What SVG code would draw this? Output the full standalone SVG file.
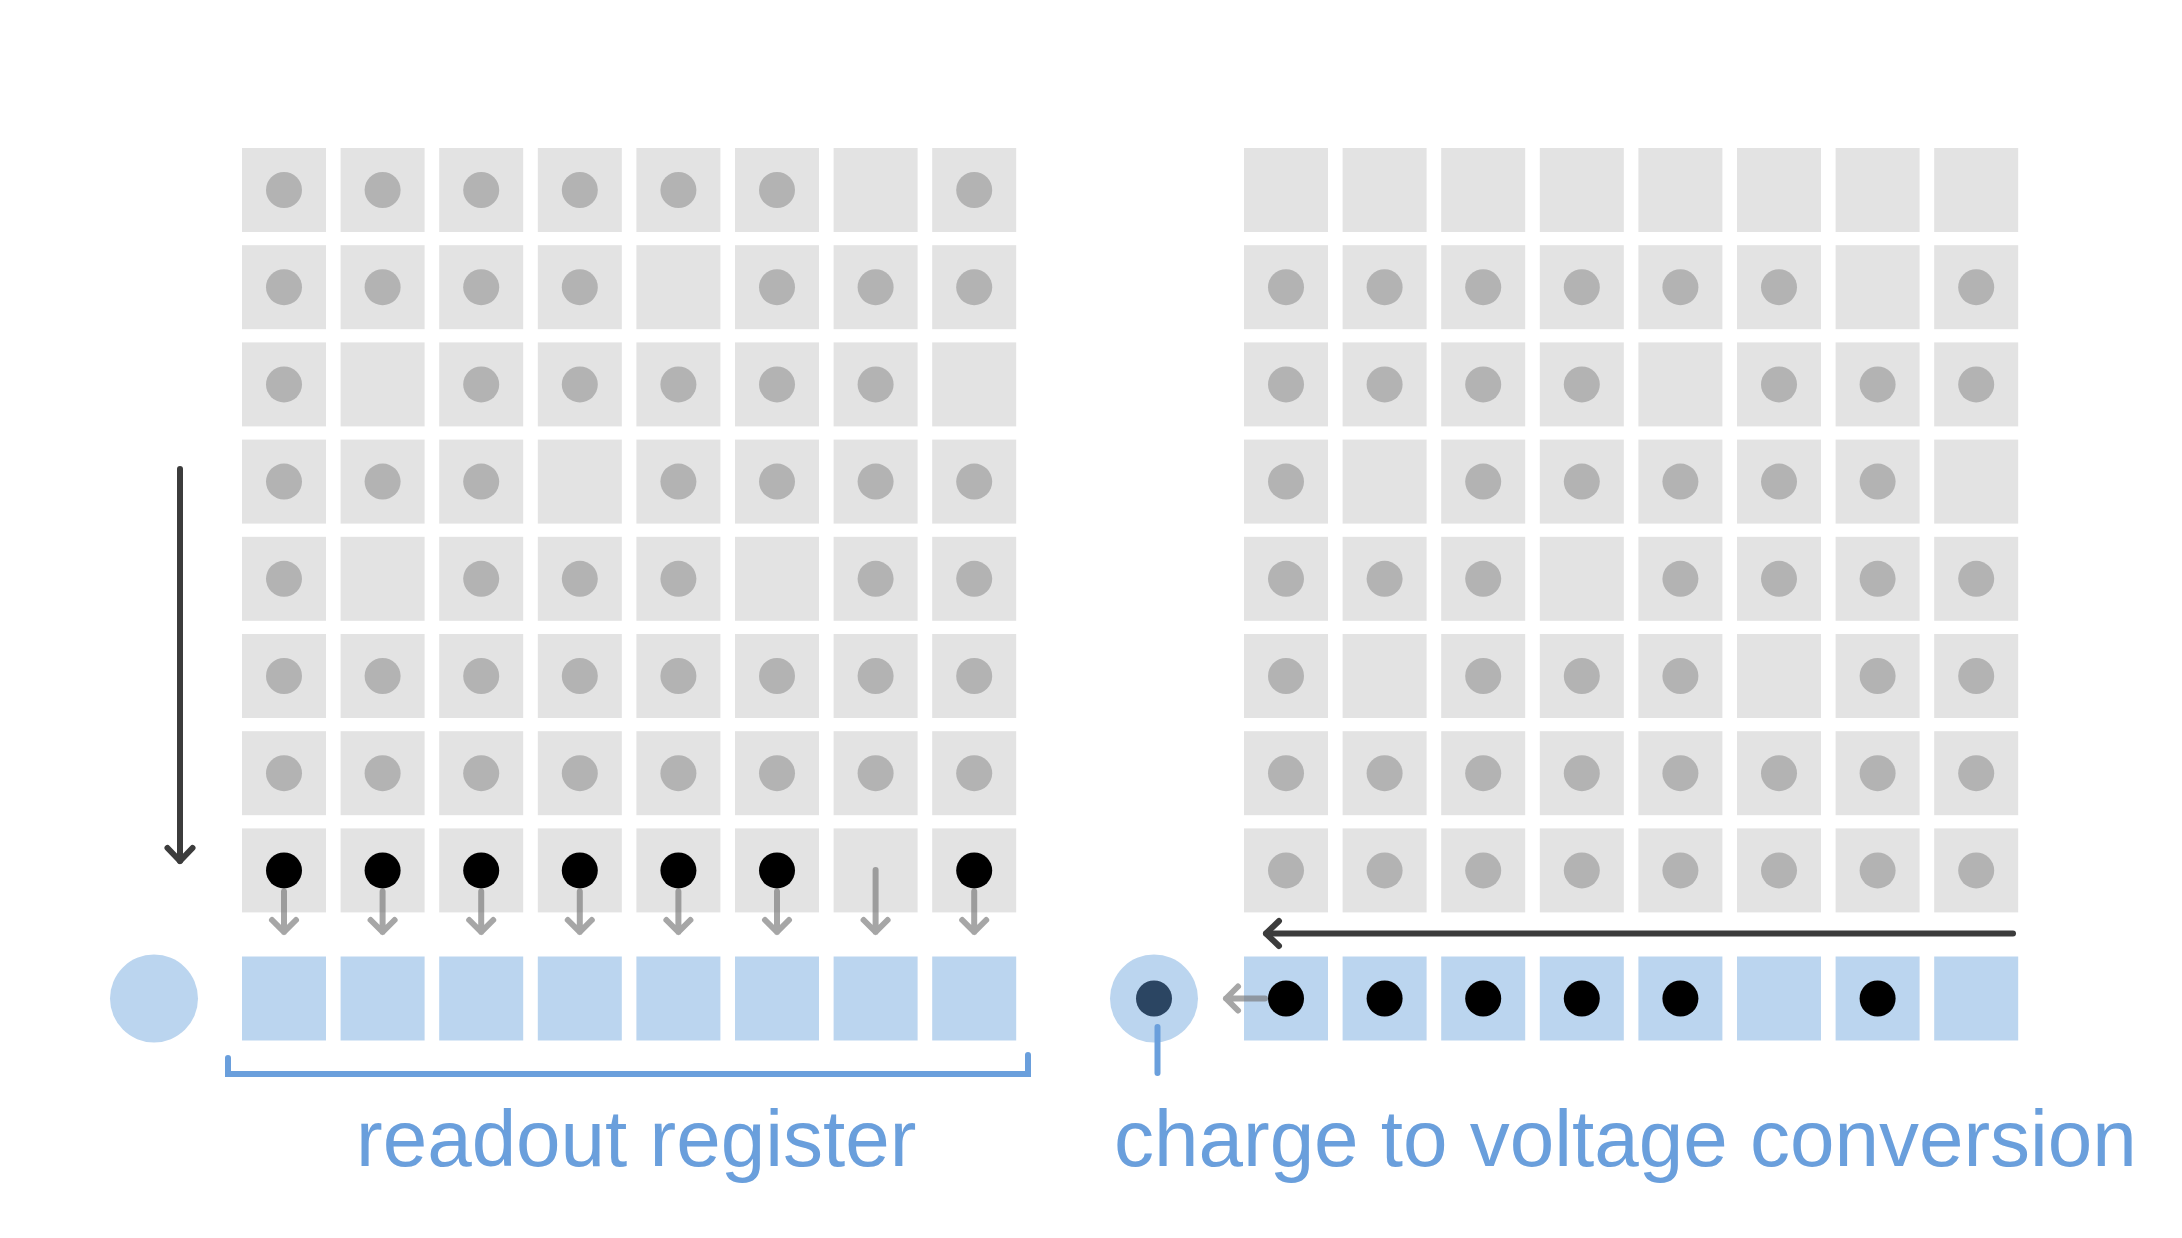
<svg xmlns="http://www.w3.org/2000/svg" width="2182" height="1238" viewBox="0 0 2182 1238">
<style>
.g{fill:#e3e3e3}
.b{fill:#bbd5ef}
.d{fill:#b3b3b3}
.k{fill:#000}
.n{fill:#2b4562}
.da{fill:none;stroke:#3c3c3c;stroke-width:6;stroke-linecap:round}
.ga{fill:none;stroke:#777;stroke-opacity:0.65;stroke-width:6;stroke-linecap:round;stroke-linejoin:round}
.bl{fill:none;stroke:#6a9fdc;stroke-width:6}
.t{font-family:"Liberation Sans",Arial,sans-serif;font-size:80px;fill:#6a9fdc}
</style>
<defs>
<marker id="ah" markerUnits="userSpaceOnUse" viewBox="-20 -20 40 40" markerWidth="40" markerHeight="40" refX="0" refY="0" orient="auto">
<path d="M-13,-12.5 L0,0 L-13,12.5" fill="none" stroke="#3c3c3c" stroke-width="6" stroke-linecap="round" stroke-linejoin="round"/>
</marker>
</defs>
<rect width="2182" height="1238" fill="#fff"/>

<g id="left-grid">
<g id="L1-1" transform="translate(242,148)"><rect class="g" width="84" height="84"/><circle class="d" cx="42" cy="42" r="18"/></g>
<g id="L1-2" transform="translate(340.6,148)"><rect class="g" width="84" height="84"/><circle class="d" cx="42" cy="42" r="18"/></g>
<g id="L1-3" transform="translate(439.2,148)"><rect class="g" width="84" height="84"/><circle class="d" cx="42" cy="42" r="18"/></g>
<g id="L1-4" transform="translate(537.8,148)"><rect class="g" width="84" height="84"/><circle class="d" cx="42" cy="42" r="18"/></g>
<g id="L1-5" transform="translate(636.4,148)"><rect class="g" width="84" height="84"/><circle class="d" cx="42" cy="42" r="18"/></g>
<g id="L1-6" transform="translate(735,148)"><rect class="g" width="84" height="84"/><circle class="d" cx="42" cy="42" r="18"/></g>
<g id="L1-7" transform="translate(833.6,148)"><rect class="g" width="84" height="84"/></g>
<g id="L1-8" transform="translate(932.2,148)"><rect class="g" width="84" height="84"/><circle class="d" cx="42" cy="42" r="18"/></g>

<g id="L2-1" transform="translate(242,245.2)"><rect class="g" width="84" height="84"/><circle class="d" cx="42" cy="42" r="18"/></g>
<g id="L2-2" transform="translate(340.6,245.2)"><rect class="g" width="84" height="84"/><circle class="d" cx="42" cy="42" r="18"/></g>
<g id="L2-3" transform="translate(439.2,245.2)"><rect class="g" width="84" height="84"/><circle class="d" cx="42" cy="42" r="18"/></g>
<g id="L2-4" transform="translate(537.8,245.2)"><rect class="g" width="84" height="84"/><circle class="d" cx="42" cy="42" r="18"/></g>
<g id="L2-5" transform="translate(636.4,245.2)"><rect class="g" width="84" height="84"/></g>
<g id="L2-6" transform="translate(735,245.2)"><rect class="g" width="84" height="84"/><circle class="d" cx="42" cy="42" r="18"/></g>
<g id="L2-7" transform="translate(833.6,245.2)"><rect class="g" width="84" height="84"/><circle class="d" cx="42" cy="42" r="18"/></g>
<g id="L2-8" transform="translate(932.2,245.2)"><rect class="g" width="84" height="84"/><circle class="d" cx="42" cy="42" r="18"/></g>

<g id="L3-1" transform="translate(242,342.4)"><rect class="g" width="84" height="84"/><circle class="d" cx="42" cy="42" r="18"/></g>
<g id="L3-2" transform="translate(340.6,342.4)"><rect class="g" width="84" height="84"/></g>
<g id="L3-3" transform="translate(439.2,342.4)"><rect class="g" width="84" height="84"/><circle class="d" cx="42" cy="42" r="18"/></g>
<g id="L3-4" transform="translate(537.8,342.4)"><rect class="g" width="84" height="84"/><circle class="d" cx="42" cy="42" r="18"/></g>
<g id="L3-5" transform="translate(636.4,342.4)"><rect class="g" width="84" height="84"/><circle class="d" cx="42" cy="42" r="18"/></g>
<g id="L3-6" transform="translate(735,342.4)"><rect class="g" width="84" height="84"/><circle class="d" cx="42" cy="42" r="18"/></g>
<g id="L3-7" transform="translate(833.6,342.4)"><rect class="g" width="84" height="84"/><circle class="d" cx="42" cy="42" r="18"/></g>
<g id="L3-8" transform="translate(932.2,342.4)"><rect class="g" width="84" height="84"/></g>

<g id="L4-1" transform="translate(242,439.6)"><rect class="g" width="84" height="84"/><circle class="d" cx="42" cy="42" r="18"/></g>
<g id="L4-2" transform="translate(340.6,439.6)"><rect class="g" width="84" height="84"/><circle class="d" cx="42" cy="42" r="18"/></g>
<g id="L4-3" transform="translate(439.2,439.6)"><rect class="g" width="84" height="84"/><circle class="d" cx="42" cy="42" r="18"/></g>
<g id="L4-4" transform="translate(537.8,439.6)"><rect class="g" width="84" height="84"/></g>
<g id="L4-5" transform="translate(636.4,439.6)"><rect class="g" width="84" height="84"/><circle class="d" cx="42" cy="42" r="18"/></g>
<g id="L4-6" transform="translate(735,439.6)"><rect class="g" width="84" height="84"/><circle class="d" cx="42" cy="42" r="18"/></g>
<g id="L4-7" transform="translate(833.6,439.6)"><rect class="g" width="84" height="84"/><circle class="d" cx="42" cy="42" r="18"/></g>
<g id="L4-8" transform="translate(932.2,439.6)"><rect class="g" width="84" height="84"/><circle class="d" cx="42" cy="42" r="18"/></g>

<g id="L5-1" transform="translate(242,536.8)"><rect class="g" width="84" height="84"/><circle class="d" cx="42" cy="42" r="18"/></g>
<g id="L5-2" transform="translate(340.6,536.8)"><rect class="g" width="84" height="84"/></g>
<g id="L5-3" transform="translate(439.2,536.8)"><rect class="g" width="84" height="84"/><circle class="d" cx="42" cy="42" r="18"/></g>
<g id="L5-4" transform="translate(537.8,536.8)"><rect class="g" width="84" height="84"/><circle class="d" cx="42" cy="42" r="18"/></g>
<g id="L5-5" transform="translate(636.4,536.8)"><rect class="g" width="84" height="84"/><circle class="d" cx="42" cy="42" r="18"/></g>
<g id="L5-6" transform="translate(735,536.8)"><rect class="g" width="84" height="84"/></g>
<g id="L5-7" transform="translate(833.6,536.8)"><rect class="g" width="84" height="84"/><circle class="d" cx="42" cy="42" r="18"/></g>
<g id="L5-8" transform="translate(932.2,536.8)"><rect class="g" width="84" height="84"/><circle class="d" cx="42" cy="42" r="18"/></g>

<g id="L6-1" transform="translate(242,634)"><rect class="g" width="84" height="84"/><circle class="d" cx="42" cy="42" r="18"/></g>
<g id="L6-2" transform="translate(340.6,634)"><rect class="g" width="84" height="84"/><circle class="d" cx="42" cy="42" r="18"/></g>
<g id="L6-3" transform="translate(439.2,634)"><rect class="g" width="84" height="84"/><circle class="d" cx="42" cy="42" r="18"/></g>
<g id="L6-4" transform="translate(537.8,634)"><rect class="g" width="84" height="84"/><circle class="d" cx="42" cy="42" r="18"/></g>
<g id="L6-5" transform="translate(636.4,634)"><rect class="g" width="84" height="84"/><circle class="d" cx="42" cy="42" r="18"/></g>
<g id="L6-6" transform="translate(735,634)"><rect class="g" width="84" height="84"/><circle class="d" cx="42" cy="42" r="18"/></g>
<g id="L6-7" transform="translate(833.6,634)"><rect class="g" width="84" height="84"/><circle class="d" cx="42" cy="42" r="18"/></g>
<g id="L6-8" transform="translate(932.2,634)"><rect class="g" width="84" height="84"/><circle class="d" cx="42" cy="42" r="18"/></g>

<g id="L7-1" transform="translate(242,731.2)"><rect class="g" width="84" height="84"/><circle class="d" cx="42" cy="42" r="18"/></g>
<g id="L7-2" transform="translate(340.6,731.2)"><rect class="g" width="84" height="84"/><circle class="d" cx="42" cy="42" r="18"/></g>
<g id="L7-3" transform="translate(439.2,731.2)"><rect class="g" width="84" height="84"/><circle class="d" cx="42" cy="42" r="18"/></g>
<g id="L7-4" transform="translate(537.8,731.2)"><rect class="g" width="84" height="84"/><circle class="d" cx="42" cy="42" r="18"/></g>
<g id="L7-5" transform="translate(636.4,731.2)"><rect class="g" width="84" height="84"/><circle class="d" cx="42" cy="42" r="18"/></g>
<g id="L7-6" transform="translate(735,731.2)"><rect class="g" width="84" height="84"/><circle class="d" cx="42" cy="42" r="18"/></g>
<g id="L7-7" transform="translate(833.6,731.2)"><rect class="g" width="84" height="84"/><circle class="d" cx="42" cy="42" r="18"/></g>
<g id="L7-8" transform="translate(932.2,731.2)"><rect class="g" width="84" height="84"/><circle class="d" cx="42" cy="42" r="18"/></g>

<g id="L8-1" transform="translate(242,828.4)"><rect class="g" width="84" height="84"/><circle class="k" cx="42" cy="42" r="18"/></g>
<g id="L8-2" transform="translate(340.6,828.4)"><rect class="g" width="84" height="84"/><circle class="k" cx="42" cy="42" r="18"/></g>
<g id="L8-3" transform="translate(439.2,828.4)"><rect class="g" width="84" height="84"/><circle class="k" cx="42" cy="42" r="18"/></g>
<g id="L8-4" transform="translate(537.8,828.4)"><rect class="g" width="84" height="84"/><circle class="k" cx="42" cy="42" r="18"/></g>
<g id="L8-5" transform="translate(636.4,828.4)"><rect class="g" width="84" height="84"/><circle class="k" cx="42" cy="42" r="18"/></g>
<g id="L8-6" transform="translate(735,828.4)"><rect class="g" width="84" height="84"/><circle class="k" cx="42" cy="42" r="18"/></g>
<g id="L8-7" transform="translate(833.6,828.4)"><rect class="g" width="84" height="84"/></g>
<g id="L8-8" transform="translate(932.2,828.4)"><rect class="g" width="84" height="84"/><circle class="k" cx="42" cy="42" r="18"/></g>
</g>

<g id="left-register">
<g id="LR-1" transform="translate(242,956.5)"><rect class="b" width="84" height="84"/></g>
<g id="LR-2" transform="translate(340.6,956.5)"><rect class="b" width="84" height="84"/></g>
<g id="LR-3" transform="translate(439.2,956.5)"><rect class="b" width="84" height="84"/></g>
<g id="LR-4" transform="translate(537.8,956.5)"><rect class="b" width="84" height="84"/></g>
<g id="LR-5" transform="translate(636.4,956.5)"><rect class="b" width="84" height="84"/></g>
<g id="LR-6" transform="translate(735,956.5)"><rect class="b" width="84" height="84"/></g>
<g id="LR-7" transform="translate(833.6,956.5)"><rect class="b" width="84" height="84"/></g>
<g id="LR-8" transform="translate(932.2,956.5)"><rect class="b" width="84" height="84"/></g>
</g>
<g id="left-output"><circle class="b" cx="154" cy="998.5" r="44"/></g>

<g id="right-grid">
<g id="R1-1" transform="translate(1244,148)"><rect class="g" width="84" height="84"/></g>
<g id="R1-2" transform="translate(1342.6,148)"><rect class="g" width="84" height="84"/></g>
<g id="R1-3" transform="translate(1441.2,148)"><rect class="g" width="84" height="84"/></g>
<g id="R1-4" transform="translate(1539.8,148)"><rect class="g" width="84" height="84"/></g>
<g id="R1-5" transform="translate(1638.4,148)"><rect class="g" width="84" height="84"/></g>
<g id="R1-6" transform="translate(1737,148)"><rect class="g" width="84" height="84"/></g>
<g id="R1-7" transform="translate(1835.6,148)"><rect class="g" width="84" height="84"/></g>
<g id="R1-8" transform="translate(1934.2,148)"><rect class="g" width="84" height="84"/></g>

<g id="R2-1" transform="translate(1244,245.2)"><rect class="g" width="84" height="84"/><circle class="d" cx="42" cy="42" r="18"/></g>
<g id="R2-2" transform="translate(1342.6,245.2)"><rect class="g" width="84" height="84"/><circle class="d" cx="42" cy="42" r="18"/></g>
<g id="R2-3" transform="translate(1441.2,245.2)"><rect class="g" width="84" height="84"/><circle class="d" cx="42" cy="42" r="18"/></g>
<g id="R2-4" transform="translate(1539.8,245.2)"><rect class="g" width="84" height="84"/><circle class="d" cx="42" cy="42" r="18"/></g>
<g id="R2-5" transform="translate(1638.4,245.2)"><rect class="g" width="84" height="84"/><circle class="d" cx="42" cy="42" r="18"/></g>
<g id="R2-6" transform="translate(1737,245.2)"><rect class="g" width="84" height="84"/><circle class="d" cx="42" cy="42" r="18"/></g>
<g id="R2-7" transform="translate(1835.6,245.2)"><rect class="g" width="84" height="84"/></g>
<g id="R2-8" transform="translate(1934.2,245.2)"><rect class="g" width="84" height="84"/><circle class="d" cx="42" cy="42" r="18"/></g>

<g id="R3-1" transform="translate(1244,342.4)"><rect class="g" width="84" height="84"/><circle class="d" cx="42" cy="42" r="18"/></g>
<g id="R3-2" transform="translate(1342.6,342.4)"><rect class="g" width="84" height="84"/><circle class="d" cx="42" cy="42" r="18"/></g>
<g id="R3-3" transform="translate(1441.2,342.4)"><rect class="g" width="84" height="84"/><circle class="d" cx="42" cy="42" r="18"/></g>
<g id="R3-4" transform="translate(1539.8,342.4)"><rect class="g" width="84" height="84"/><circle class="d" cx="42" cy="42" r="18"/></g>
<g id="R3-5" transform="translate(1638.4,342.4)"><rect class="g" width="84" height="84"/></g>
<g id="R3-6" transform="translate(1737,342.4)"><rect class="g" width="84" height="84"/><circle class="d" cx="42" cy="42" r="18"/></g>
<g id="R3-7" transform="translate(1835.6,342.4)"><rect class="g" width="84" height="84"/><circle class="d" cx="42" cy="42" r="18"/></g>
<g id="R3-8" transform="translate(1934.2,342.4)"><rect class="g" width="84" height="84"/><circle class="d" cx="42" cy="42" r="18"/></g>

<g id="R4-1" transform="translate(1244,439.6)"><rect class="g" width="84" height="84"/><circle class="d" cx="42" cy="42" r="18"/></g>
<g id="R4-2" transform="translate(1342.6,439.6)"><rect class="g" width="84" height="84"/></g>
<g id="R4-3" transform="translate(1441.2,439.6)"><rect class="g" width="84" height="84"/><circle class="d" cx="42" cy="42" r="18"/></g>
<g id="R4-4" transform="translate(1539.8,439.6)"><rect class="g" width="84" height="84"/><circle class="d" cx="42" cy="42" r="18"/></g>
<g id="R4-5" transform="translate(1638.4,439.6)"><rect class="g" width="84" height="84"/><circle class="d" cx="42" cy="42" r="18"/></g>
<g id="R4-6" transform="translate(1737,439.6)"><rect class="g" width="84" height="84"/><circle class="d" cx="42" cy="42" r="18"/></g>
<g id="R4-7" transform="translate(1835.6,439.6)"><rect class="g" width="84" height="84"/><circle class="d" cx="42" cy="42" r="18"/></g>
<g id="R4-8" transform="translate(1934.2,439.6)"><rect class="g" width="84" height="84"/></g>

<g id="R5-1" transform="translate(1244,536.8)"><rect class="g" width="84" height="84"/><circle class="d" cx="42" cy="42" r="18"/></g>
<g id="R5-2" transform="translate(1342.6,536.8)"><rect class="g" width="84" height="84"/><circle class="d" cx="42" cy="42" r="18"/></g>
<g id="R5-3" transform="translate(1441.2,536.8)"><rect class="g" width="84" height="84"/><circle class="d" cx="42" cy="42" r="18"/></g>
<g id="R5-4" transform="translate(1539.8,536.8)"><rect class="g" width="84" height="84"/></g>
<g id="R5-5" transform="translate(1638.4,536.8)"><rect class="g" width="84" height="84"/><circle class="d" cx="42" cy="42" r="18"/></g>
<g id="R5-6" transform="translate(1737,536.8)"><rect class="g" width="84" height="84"/><circle class="d" cx="42" cy="42" r="18"/></g>
<g id="R5-7" transform="translate(1835.6,536.8)"><rect class="g" width="84" height="84"/><circle class="d" cx="42" cy="42" r="18"/></g>
<g id="R5-8" transform="translate(1934.2,536.8)"><rect class="g" width="84" height="84"/><circle class="d" cx="42" cy="42" r="18"/></g>

<g id="R6-1" transform="translate(1244,634)"><rect class="g" width="84" height="84"/><circle class="d" cx="42" cy="42" r="18"/></g>
<g id="R6-2" transform="translate(1342.6,634)"><rect class="g" width="84" height="84"/></g>
<g id="R6-3" transform="translate(1441.2,634)"><rect class="g" width="84" height="84"/><circle class="d" cx="42" cy="42" r="18"/></g>
<g id="R6-4" transform="translate(1539.8,634)"><rect class="g" width="84" height="84"/><circle class="d" cx="42" cy="42" r="18"/></g>
<g id="R6-5" transform="translate(1638.4,634)"><rect class="g" width="84" height="84"/><circle class="d" cx="42" cy="42" r="18"/></g>
<g id="R6-6" transform="translate(1737,634)"><rect class="g" width="84" height="84"/></g>
<g id="R6-7" transform="translate(1835.6,634)"><rect class="g" width="84" height="84"/><circle class="d" cx="42" cy="42" r="18"/></g>
<g id="R6-8" transform="translate(1934.2,634)"><rect class="g" width="84" height="84"/><circle class="d" cx="42" cy="42" r="18"/></g>

<g id="R7-1" transform="translate(1244,731.2)"><rect class="g" width="84" height="84"/><circle class="d" cx="42" cy="42" r="18"/></g>
<g id="R7-2" transform="translate(1342.6,731.2)"><rect class="g" width="84" height="84"/><circle class="d" cx="42" cy="42" r="18"/></g>
<g id="R7-3" transform="translate(1441.2,731.2)"><rect class="g" width="84" height="84"/><circle class="d" cx="42" cy="42" r="18"/></g>
<g id="R7-4" transform="translate(1539.8,731.2)"><rect class="g" width="84" height="84"/><circle class="d" cx="42" cy="42" r="18"/></g>
<g id="R7-5" transform="translate(1638.4,731.2)"><rect class="g" width="84" height="84"/><circle class="d" cx="42" cy="42" r="18"/></g>
<g id="R7-6" transform="translate(1737,731.2)"><rect class="g" width="84" height="84"/><circle class="d" cx="42" cy="42" r="18"/></g>
<g id="R7-7" transform="translate(1835.6,731.2)"><rect class="g" width="84" height="84"/><circle class="d" cx="42" cy="42" r="18"/></g>
<g id="R7-8" transform="translate(1934.2,731.2)"><rect class="g" width="84" height="84"/><circle class="d" cx="42" cy="42" r="18"/></g>

<g id="R8-1" transform="translate(1244,828.4)"><rect class="g" width="84" height="84"/><circle class="d" cx="42" cy="42" r="18"/></g>
<g id="R8-2" transform="translate(1342.6,828.4)"><rect class="g" width="84" height="84"/><circle class="d" cx="42" cy="42" r="18"/></g>
<g id="R8-3" transform="translate(1441.2,828.4)"><rect class="g" width="84" height="84"/><circle class="d" cx="42" cy="42" r="18"/></g>
<g id="R8-4" transform="translate(1539.8,828.4)"><rect class="g" width="84" height="84"/><circle class="d" cx="42" cy="42" r="18"/></g>
<g id="R8-5" transform="translate(1638.4,828.4)"><rect class="g" width="84" height="84"/><circle class="d" cx="42" cy="42" r="18"/></g>
<g id="R8-6" transform="translate(1737,828.4)"><rect class="g" width="84" height="84"/><circle class="d" cx="42" cy="42" r="18"/></g>
<g id="R8-7" transform="translate(1835.6,828.4)"><rect class="g" width="84" height="84"/><circle class="d" cx="42" cy="42" r="18"/></g>
<g id="R8-8" transform="translate(1934.2,828.4)"><rect class="g" width="84" height="84"/><circle class="d" cx="42" cy="42" r="18"/></g>
</g>

<g id="right-register">
<g id="RR-1" transform="translate(1244,956.5)"><rect class="b" width="84" height="84"/><circle class="k" cx="42" cy="42" r="18"/></g>
<g id="RR-2" transform="translate(1342.6,956.5)"><rect class="b" width="84" height="84"/><circle class="k" cx="42" cy="42" r="18"/></g>
<g id="RR-3" transform="translate(1441.2,956.5)"><rect class="b" width="84" height="84"/><circle class="k" cx="42" cy="42" r="18"/></g>
<g id="RR-4" transform="translate(1539.8,956.5)"><rect class="b" width="84" height="84"/><circle class="k" cx="42" cy="42" r="18"/></g>
<g id="RR-5" transform="translate(1638.4,956.5)"><rect class="b" width="84" height="84"/><circle class="k" cx="42" cy="42" r="18"/></g>
<g id="RR-6" transform="translate(1737,956.5)"><rect class="b" width="84" height="84"/></g>
<g id="RR-7" transform="translate(1835.6,956.5)"><rect class="b" width="84" height="84"/><circle class="k" cx="42" cy="42" r="18"/></g>
<g id="RR-8" transform="translate(1934.2,956.5)"><rect class="b" width="84" height="84"/></g>
</g>
<g id="right-output"><circle class="b" cx="1154" cy="998.5" r="44"/><circle class="n" cx="1154" cy="998.5" r="18"/></g>

<g id="connectors">
<line class="da" x1="180" y1="469" x2="180" y2="861" marker-end="url(#ah)"/>
<line class="da" x1="2013" y1="933.5" x2="1266" y2="933.5" marker-end="url(#ah)"/>
<path class="ga" d="M284,891.5V932M272,920L284,932L296,920"/>
<path class="ga" d="M382.6,891.5V932M370.6,920L382.6,932L394.6,920"/>
<path class="ga" d="M481.2,891.5V932M469.2,920L481.2,932L493.2,920"/>
<path class="ga" d="M579.8,891.5V932M567.8,920L579.8,932L591.8,920"/>
<path class="ga" d="M678.4,891.5V932M666.4,920L678.4,932L690.4,920"/>
<path class="ga" d="M777,891.5V932M765,920L777,932L789,920"/>
<path class="ga" d="M875.6,870V932M863.6,920L875.6,932L887.6,920"/>
<path class="ga" d="M974.2,891.5V932M962.2,920L974.2,932L986.2,920"/>
<path class="ga" d="M1265,998.5H1226M1238,986.5L1226,998.5L1238,1010.5"/>
<path class="bl" d="M228,1058V1074H1028V1055" stroke-linecap="round"/>
<line class="bl" x1="1157.5" y1="1027" x2="1157.5" y2="1073" stroke-width="5.5" stroke-linecap="round"/>
</g>

<g id="labels">
<text class="t" x="356" y="1166">readout register</text>
<text class="t" x="1114" y="1166">charge to voltage conversion</text>
</g>
</svg>
